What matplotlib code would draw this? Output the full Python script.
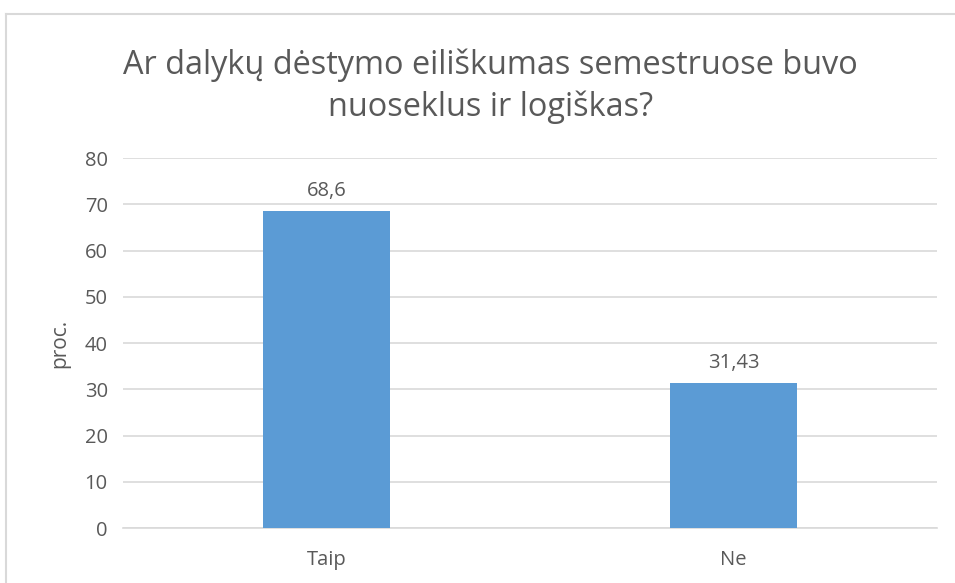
import matplotlib.pyplot as plt
from matplotlib.lines import Line2D

plt.rcParams['font.family'] = ['Open Sans', 'DejaVu Sans']

categories = ['Taip', 'Ne']
values = [68.6, 31.43]
value_labels = ['68,6', '31,43']
yticks = [0, 10, 20, 30, 40, 50, 60, 70, 80]

text_col = '#595959'
grid_col = '#D9D9D9'

fig = plt.figure(figsize=(9.55, 5.83), dpi=100)
ax = fig.add_axes([0.1288, 0.0943, 0.8524, 0.6346])

x = list(range(len(categories)))
bars = ax.bar(x, values, width=0.31, color='#5B9BD5', zorder=3)
for b, lab in zip(bars, value_labels):
    ax.annotate(lab, (b.get_x() + b.get_width() / 2, b.get_height()),
                xytext=(0, 7), textcoords='offset points',
                ha='center', va='bottom', fontsize=14.5, color=text_col)

ax.set_xlim(-0.5, 1.5)
ax.set_ylim(0, 80)
ax.set_yticks(yticks)
ax.set_xticks(x)
ax.set_xticklabels(categories)
ax.tick_params(axis='both', length=0, labelsize=14.5, colors=text_col)
ax.tick_params(axis='y', pad=11)
ax.tick_params(axis='x', pad=16)
ax.grid(axis='y', color=grid_col, linewidth=1.2, zorder=0)
for s in ['top', 'right', 'left']:
    ax.spines[s].set_visible(False)
ax.spines['bottom'].set_color(grid_col)
ax.spines['bottom'].set_linewidth(1.2)
ax.set_ylabel('proc.', fontsize=15, color=text_col, labelpad=10)

fig.text(0.514, 0.852, 'Ar dalykų dėstymo eiliškumas semestruose buvo\nnuoseklus ir logiškas?',
         ha='center', va='center', fontsize=23.4, color=text_col, linespacing=1.3)

# chart frame
fig.add_artist(Line2D([0.0063, 0.0063], [0, 0.976], color=grid_col, lw=1.5))
fig.add_artist(Line2D([0.0063, 1.0], [0.976, 0.976], color=grid_col, lw=1.5))

fig.savefig('out.png', dpi=100, facecolor='white')
